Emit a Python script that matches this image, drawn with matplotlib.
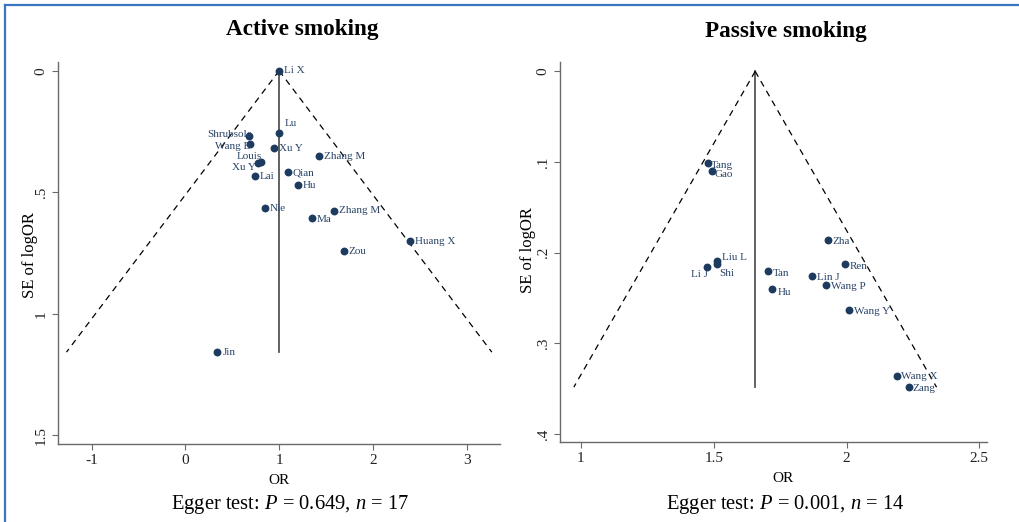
import matplotlib
matplotlib.use("Agg")
import matplotlib.pyplot as plt
from matplotlib.lines import Line2D

plt.rcParams['font.family'] = ['Liberation Serif', 'DejaVu Serif']
plt.rcParams['mathtext.fontset'] = 'custom'
plt.rcParams['mathtext.rm'] = 'Liberation Serif'
plt.rcParams['mathtext.it'] = 'Liberation Serif:italic'

# ---------------- data ----------------
active_names = ["Li X", "Lu", "Shrubsole", "Wang B", "Xu Y", "Zhang M", "Louis", "Xu Y",
                "Lai", "Qian", "Hu", "Nie", "Zhang M", "Ma", "Huang X", "Zou", "Jin"]
active_or = [1.00, 1.00, 0.68, 0.69, 0.95, 1.43, 0.81, 0.77,
             0.74, 1.09, 1.20, 0.85, 1.59, 1.35, 2.40, 1.69, 0.34]
active_se = [0.000, 0.257, 0.269, 0.303, 0.319, 0.351, 0.374, 0.381,
             0.432, 0.418, 0.470, 0.566, 0.577, 0.605, 0.701, 0.742, 1.158]
active_center = 1.0

passive_names = ["Tang", "Gao", "Liu L", "Shi", "Li J", "Tan", "Hu", "Zha", "Ren",
                 "Lin J", "Wang P", "Wang Y", "Wang X", "Zang"]
passive_or = [1.478, 1.492, 1.512, 1.513, 1.475, 1.705, 1.721, 1.930, 1.993,
              1.870, 1.921, 2.010, 2.190, 2.234]
passive_se = [0.1015, 0.1096, 0.209, 0.2125, 0.2155, 0.2206, 0.2404, 0.1857, 0.2129,
              0.2254, 0.2357, 0.263, 0.336, 0.3485]
passive_center = 1.656

active_xticks = [-1, 0, 1, 2, 3]
active_yticks = [0, 0.5, 1, 1.5]
active_yticklabels = ["0", ".5", "1", "1.5"]
passive_xticks = [1, 1.5, 2, 2.5]
passive_xticklabels = ["1", "1.5", "2", "2.5"]
passive_yticks = [0, 0.1, 0.2, 0.3, 0.4]
passive_yticklabels = ["0", ".1", ".2", ".3", ".4"]

# label placement (offset in px, horizontal alignment)
active_lab = [(5, 0, 'left'), (6, -10, 'left'), (3, -2, 'right'), (1, 2, 'right'),
              (5, 0, 'left'), (5, 0, 'left'), (1, -5, 'right'), (-2, 4, 'right'),
              (5, 1, 'left'), (5, 1, 'left'), (5, 1, 'left'), (5, 0, 'left'),
              (5, 0, 'left'), (5, 2, 'left'), (5, 0, 'left'), (5, 0, 'left'), (5, 0, 'left')]
passive_lab = [(3, 2, 'left'), (3, 4, 'left'), (5, -3, 'left'), (2, 10, 'left'),
               (1, 8, 'right'), (5, 2, 'left'), (5, 3, 'left'), (5, 2, 'left'),
               (5, 2, 'left'), (5, 2, 'left'), (5, 2, 'left'), (5, 2, 'left'),
               (4, 1, 'left'), (4, 1, 'left')]

W, H = 1020, 522
fig = plt.figure(figsize=(W / 100, H / 100), dpi=100)

def fr(x0, y0, x1, y1):
    return [x0 / W, 1 - y1 / H, (x1 - x0) / W, (y1 - y0) / H]

dot_color = '#1d3a5f'
txt_color = '#2a4468'
spine_color = '#6a6a6a'


def style(ax):
    for s in ['top', 'right']:
        ax.spines[s].set_visible(False)
    for s in ['left', 'bottom']:
        ax.spines[s].set_color(spine_color)
        ax.spines[s].set_linewidth(1.0)
    ax.tick_params(direction='out', length=4, width=0.8, color=spine_color,
                   labelsize=11, labelcolor='#222222')
    ax.tick_params(axis='y', labelrotation=90)
    for lab in ax.get_yticklabels():
        lab.set_va('center')


def funnel(ax, xs, ys, names, labs, center):
    smax = max(ys)
    ax.plot([center, center], [0, smax], color='#555555', lw=1.3, zorder=1)
    ax.plot([center, center - 1.96 * smax], [0, smax], color='black', lw=0.9,
            ls=(0, (5, 4)), zorder=1)
    ax.plot([center, center + 1.96 * smax], [0, smax], color='black', lw=0.9,
            ls=(0, (5, 4)), zorder=1)
    ax.scatter(xs, ys, s=32, color=dot_color, zorder=3, linewidths=0)
    for x, y, n, (dx, dy, ha) in zip(xs, ys, names, labs):
        ax.annotate(n, (x, y), xytext=(dx * 0.72, -dy * 0.72), textcoords='offset points',
                    ha=ha, va='center', fontsize=8, color=txt_color, zorder=4)


# left panel
ax1 = fig.add_axes(fr(58, 62, 500, 444))
funnel(ax1, active_or, active_se, active_names, active_lab, active_center)
ax1.set_xlim(-1.36, 3.357)
ax1.set_ylim(1.536, -0.036)
ax1.set_xticks(active_xticks)
ax1.set_xticklabels([str(t) for t in active_xticks])
ax1.set_yticks(active_yticks)
ax1.set_yticklabels(active_yticklabels)
style(ax1)

# right panel
ax2 = fig.add_axes(fr(560, 62, 987, 442))
funnel(ax2, passive_or, passive_se, passive_names, passive_lab, passive_center)
ax2.set_xlim(0.921, 2.529)
ax2.set_ylim(0.409, -0.0103)
ax2.set_xticks(passive_xticks)
ax2.set_xticklabels(passive_xticklabels)
ax2.set_yticks(passive_yticks)
ax2.set_yticklabels(passive_yticklabels)
style(ax2)


def ftext(x, y, s, **kw):
    fig.text(x / W, 1 - y / H, s, **kw)

ftext(302, 30, "Active smoking", ha='center', va='center', fontsize=16.7, fontweight='bold')
ftext(786, 32, "Passive smoking", ha='center', va='center', fontsize=16.7, fontweight='bold')
ftext(279, 481, "OR", ha='center', va='center', fontsize=11)
ftext(783, 478, "OR", ha='center', va='center', fontsize=11)
ftext(30, 255, "SE of logOR", ha='center', va='center', fontsize=12, rotation=90)
ftext(528, 250, "SE of logOR", ha='center', va='center', fontsize=12, rotation=90)
ftext(290, 505, "Egger test: $P$ = 0.649, $n$ = 17", ha='center', va='center', fontsize=14.8)
ftext(785, 505, "Egger test: $P$ = 0.001, $n$ = 14", ha='center', va='center', fontsize=14.8)

# outer blue frame (top and left edges)
border = '#3b74c2'
fig.add_artist(Line2D([5 / W, 1], [1 - 4.5 / H, 1 - 4.5 / H], color=border, lw=1.6,
                      transform=fig.transFigure))
fig.add_artist(Line2D([5 / W, 5 / W], [0, 1 - 4.5 / H], color=border, lw=1.6,
                      transform=fig.transFigure))

fig.savefig("out.png", dpi=100)
